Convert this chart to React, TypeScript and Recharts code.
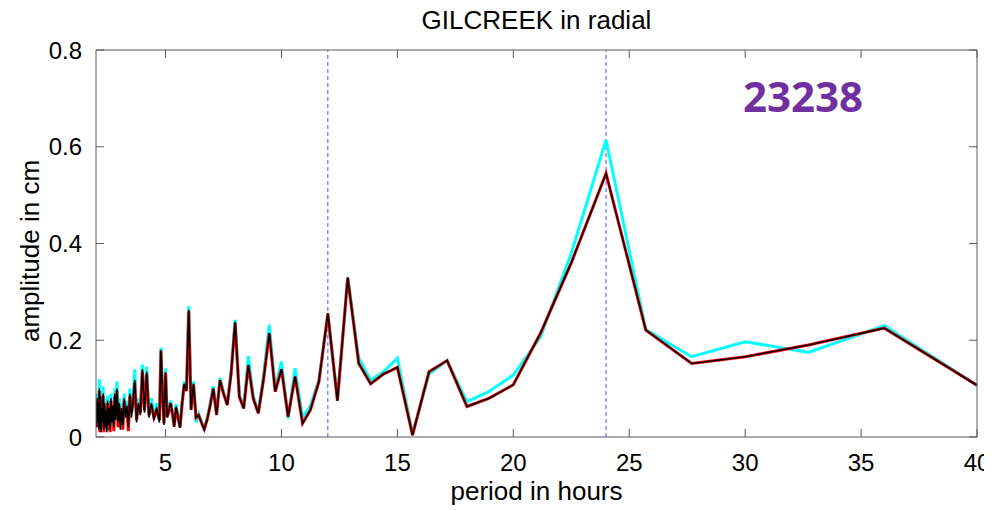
import React from "react";
import { LineChart, Line, XAxis, YAxis, ReferenceLine, Label } from "recharts";

// period grid in hours (dense below 5 h)
const periods = [
  2.0, 2.022, 2.045, 2.069, 2.093, 2.118, 2.143, 2.169, 2.195, 2.222,
  2.25, 2.278, 2.308, 2.338, 2.368, 2.4, 2.432, 2.466, 2.5, 2.535,
  2.571, 2.609, 2.647, 2.687, 2.727, 2.769, 2.813, 2.857, 2.903, 2.951,
  3.0, 3.051, 3.103, 3.158, 3.214, 3.273, 3.333, 3.396, 3.462, 3.529,
  3.6, 3.673, 3.75, 3.83, 3.913, 4.0, 4.091, 4.186, 4.286, 4.39,
  4.5, 4.615, 4.737,
  4.8, 4.865, 4.932, 5.0, 5.07, 5.143, 5.217, 5.294, 5.373, 5.455,
  5.538, 5.625, 5.714, 5.806, 5.902, 6.0, 6.102, 6.207, 6.316, 6.429,
  6.545, 6.667, 6.792, 6.923, 7.059, 7.2, 7.347, 7.5, 7.66, 7.826,
  8.0, 8.182, 8.372, 8.571, 8.78, 9.0, 9.231, 9.474, 9.73, 10.0,
  10.286, 10.588, 10.909, 11.25, 11.613, 12.0, 12.414, 12.857, 13.333, 13.846,
  14.4, 15.0, 15.652, 16.364, 17.143, 18.0, 18.947, 20.0, 21.176, 22.5,
  24.0, 25.714, 27.692, 30.0, 32.727, 36.0, 40.0,
];

const cyanAmp = [
  0.065, 0.025, 0.09, 0.035, 0.08, 0.02, 0.12, 0.025, 0.095, 0.015,
  0.07, 0.035, 0.105, 0.02, 0.08, 0.025, 0.065, 0.012, 0.085, 0.03,
  0.07, 0.02, 0.09, 0.035, 0.075, 0.025, 0.1, 0.04, 0.115, 0.035,
  0.08, 0.02, 0.07, 0.03, 0.09, 0.045, 0.075, 0.025, 0.1, 0.045,
  0.085, 0.14, 0.035, 0.08, 0.05, 0.15, 0.055, 0.145, 0.045, 0.08,
  0.04, 0.07, 0.035,
  0.185, 0.095, 0.03, 0.142, 0.045, 0.06, 0.075, 0.055, 0.025, 0.068,
  0.045, 0.022, 0.075, 0.115, 0.1, 0.27, 0.06, 0.115, 0.03, 0.048,
  0.032, 0.018, 0.038, 0.07, 0.105, 0.05, 0.122, 0.092, 0.07, 0.135,
  0.242, 0.088, 0.062, 0.167, 0.085, 0.052, 0.13, 0.232, 0.1, 0.156,
  0.038, 0.142, 0.04, 0.065, 0.118, 0.25, 0.08, 0.33, 0.163, 0.118,
  0.135, 0.163, 0.006, 0.13, 0.158, 0.073, 0.094, 0.128, 0.207, 0.38,
  0.614, 0.222, 0.166, 0.197, 0.175, 0.23, 0.107,
];

const redAmp = [
  0.055, 0.03, 0.075, 0.02, 0.065, 0.025, 0.095, 0.01, 0.08, 0.02,
  0.055, 0.04, 0.085, 0.01, 0.065, 0.03, 0.05, 0.02, 0.07, 0.015,
  0.065, 0.01, 0.075, 0.04, 0.06, 0.012, 0.085, 0.045, 0.095, 0.02,
  0.065, 0.025, 0.055, 0.015, 0.075, 0.05, 0.06, 0.012, 0.085, 0.05,
  0.07, 0.112, 0.035, 0.065, 0.05, 0.135, 0.055, 0.13, 0.045, 0.065,
  0.04, 0.055, 0.035,
  0.178, 0.088, 0.028, 0.132, 0.042, 0.052, 0.07, 0.048, 0.022, 0.06,
  0.04, 0.02, 0.068, 0.108, 0.095, 0.26, 0.056, 0.108, 0.04, 0.045,
  0.03, 0.016, 0.035, 0.064, 0.1, 0.046, 0.117, 0.09, 0.066, 0.13,
  0.236, 0.083, 0.059, 0.148, 0.08, 0.049, 0.12, 0.214, 0.094, 0.14,
  0.042, 0.125, 0.028, 0.056, 0.114, 0.255, 0.075, 0.329, 0.152, 0.11,
  0.13, 0.144, 0.004, 0.135, 0.158, 0.063, 0.08, 0.108, 0.215, 0.36,
  0.545, 0.221, 0.152, 0.166, 0.19, 0.225, 0.107,
];

const blackAmp = [
  0.06, 0.02, 0.08, 0.03, 0.07, 0.015, 0.1, 0.02, 0.085, 0.01,
  0.06, 0.03, 0.09, 0.015, 0.07, 0.02, 0.055, 0.01, 0.075, 0.025,
  0.06, 0.015, 0.08, 0.03, 0.065, 0.02, 0.09, 0.035, 0.1, 0.03,
  0.07, 0.015, 0.06, 0.025, 0.08, 0.04, 0.065, 0.02, 0.09, 0.04,
  0.075, 0.118, 0.03, 0.07, 0.045, 0.14, 0.05, 0.135, 0.04, 0.07,
  0.035, 0.06, 0.03,
  0.18, 0.09, 0.025, 0.134, 0.04, 0.055, 0.07, 0.05, 0.021, 0.063,
  0.04, 0.019, 0.07, 0.11, 0.095, 0.263, 0.056, 0.11, 0.04, 0.045,
  0.03, 0.015, 0.035, 0.065, 0.1, 0.045, 0.118, 0.09, 0.066, 0.13,
  0.238, 0.083, 0.059, 0.149, 0.08, 0.049, 0.12, 0.215, 0.094, 0.14,
  0.042, 0.125, 0.028, 0.056, 0.114, 0.256, 0.075, 0.33, 0.152, 0.11,
  0.13, 0.144, 0.004, 0.135, 0.158, 0.063, 0.08, 0.108, 0.215, 0.36,
  0.545, 0.221, 0.152, 0.166, 0.19, 0.225, 0.107,
];

const periodTicks = [5, 10, 15, 20, 25, 30, 35, 40];
const ampTicks = [0, 0.2, 0.4, 0.6, 0.8];
const markedPeriods = [12, 24];

const chartTitle = "GILCREEK in radial";
const xTitle = "period in hours";
const yTitle = "amplitude in cm";
const stationCode = "23238";

const data = periods.map((period, i) => ({
  period,
  cyan: cyanAmp[i],
  red: redAmp[i],
  black: blackAmp[i],
}));

const FONT = '"Liberation Sans", Arial, sans-serif';
const AXIS = "#5a5a5a";
const TICK_LEN = 8;

// matlab-style ticks: short marks pointing into the plot box
const BottomTick = (props: any) => {
  const { x, y, payload } = props;
  return (
    <g>
      <line x1={x} x2={x} y1={y} y2={y - TICK_LEN} stroke={AXIS} />
      <text x={x} y={y + 25} dy="0.355em" textAnchor="middle" fill="#000" fontSize={24} fontFamily={FONT}>
        {payload.value}
      </text>
    </g>
  );
};

const TopTick = (props: any) => {
  const { x, y } = props;
  return <line x1={x} x2={x} y1={y} y2={y + TICK_LEN} stroke={AXIS} />;
};

const LeftTick = (props: any) => {
  const { x, y, payload } = props;
  return (
    <g>
      <line x1={x} x2={x + TICK_LEN} y1={y} y2={y} stroke={AXIS} />
      <text x={x - 14} y={y} dy="0.355em" textAnchor="end" fill="#000" fontSize={24} fontFamily={FONT}>
        {payload.value}
      </text>
    </g>
  );
};

const RightTick = (props: any) => {
  const { x, y } = props;
  return <line x1={x} x2={x - TICK_LEN} y1={y} y2={y} stroke={AXIS} />;
};

export default function App() {
  return (
    <div style={{ position: "relative", width: 984, height: 500, fontFamily: FONT }}>
      <LineChart
        width={984}
        height={500}
        data={data}
        margin={{ top: 41, right: 14, left: 0, bottom: 0 }}
      >
        <XAxis
          dataKey="period"
          type="number"
          domain={[2, 40]}
          ticks={periodTicks}
          allowDataOverflow
          height={71}
          stroke={AXIS}
          tickSize={0}
          tickMargin={0}
          tickLine={false}
          tick={<BottomTick />}
        >
          <Label
            value={xTitle}
            position="insideBottom"
            offset={8}
            style={{ fill: "#000", fontSize: 26, fontFamily: FONT }}
          />
        </XAxis>
        <XAxis
          xAxisId="top"
          orientation="top"
          dataKey="period"
          type="number"
          domain={[2, 40]}
          ticks={periodTicks}
          allowDataOverflow
          height={1}
          stroke={AXIS}
          tickSize={0}
          tickMargin={0}
          tickLine={false}
          tick={<TopTick />}
        />
        <YAxis
          type="number"
          domain={[0, 0.8]}
          ticks={ampTicks}
          allowDataOverflow
          width={88}
          stroke={AXIS}
          tickSize={0}
          tickMargin={0}
          tickLine={false}
          tick={<LeftTick />}
        />
        <YAxis
          yAxisId="right"
          orientation="right"
          type="number"
          domain={[0, 0.8]}
          ticks={ampTicks}
          allowDataOverflow
          width={1}
          stroke={AXIS}
          tickSize={0}
          tickMargin={0}
          tickLine={false}
          tick={<RightTick />}
        />
        {markedPeriods.map((p) => (
          <ReferenceLine
            key={p}
            x={p}
            stroke="#4d4dff"
            strokeWidth={1}
            strokeDasharray="4 3"
          />
        ))}
        <Line
          xAxisId="top"
          yAxisId="right"
          type="linear"
          dataKey="cyan"
          stroke="#00ffff"
          strokeWidth={3}
          dot={false}
          isAnimationActive={false}
        />
        <Line
          type="linear"
          dataKey="red"
          stroke="#ff0000"
          strokeWidth={3}
          dot={false}
          isAnimationActive={false}
        />
        <Line
          type="linear"
          dataKey="black"
          stroke="#000000"
          strokeWidth={1.5}
          dot={false}
          isAnimationActive={false}
        />
      </LineChart>

      <div
        style={{
          position: "absolute",
          left: 88,
          width: 881,
          top: -3,
          textAlign: "center",
          fontSize: 26,
          color: "#000",
        }}
      >
        {chartTitle}
      </div>

      <div
        style={{
          position: "absolute",
          left: 22,
          top: 243,
          transform: "translate(-50%, -50%) rotate(-90deg)",
          whiteSpace: "nowrap",
          fontSize: 26,
          color: "#000",
        }}
      >
        {yTitle}
      </div>

      <div
        style={{
          position: "absolute",
          left: 735,
          top: 59,
          fontSize: 42,
          fontWeight: 700,
          color: "#7030a0",
          fontFamily: '"Open Sans", "Noto Sans", sans-serif',
        }}
      >
        {stationCode}
      </div>
    </div>
  );
}
